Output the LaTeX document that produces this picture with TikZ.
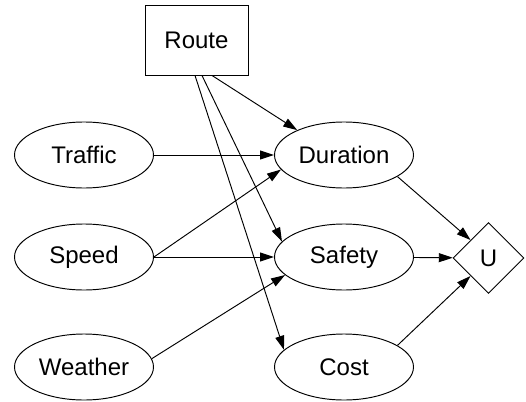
\documentclass[tikz,border=0pt]{standalone}
\usepackage{fontspec}
\setmainfont{Liberation Sans}
\usetikzlibrary{arrows.meta,shapes.geometric}

\begin{document}
\begin{tikzpicture}[x=1pt, y=-1pt, >={Triangle[length=14pt,width=9pt]}, line width=0.95pt,
  font=\fontsize{24}{28}\selectfont,
  var/.style={draw, ellipse, inner sep=0pt, minimum width=139pt, minimum height=66pt},
  dec/.style={draw, rectangle, inner sep=0pt, minimum width=103pt, minimum height=70pt},
  util/.style={draw, diamond, aspect=1, inner sep=0pt, minimum size=71pt}]
\useasboundingbox (0,0) rectangle (526,401);
% ---------- nodes ----------
\node[dec]  (route)    at (196.5,40) {Route};
\node[var]  (traffic)  at (84,155)   {Traffic};
\node[var]  (speed)    at (84,257)   {Speed};
\node[var]  (weather)  at (84,367)   {Weather};
\node[var]  (duration) at (344,155)  {Duration};
\node[var]  (safety)   at (344,257)  {Safety};
\node[var]  (cost)     at (344,367)  {Cost};
\node[util] (u)        at (488.5,258) {U};
% ---------- edges ----------
\draw[->] ([xshift=15.5pt]route.south) -- (duration.152);
\draw[->] ([xshift=5.5pt]route.south) -- (safety.166);
\draw[->] ([xshift=-1.5pt]route.south) -- (cost.164);
\draw[->] (traffic) -- (duration);
\draw[->] (speed.east) -- (duration.193);
\draw[->] (speed) -- (safety);
\draw[->] (weather.7) -- (safety.197);
\draw[->] (duration.-22) -- (u.north west);
\draw[->] (safety) -- (u);
\draw[->] (cost.22) -- (u.south west);
\end{tikzpicture}
\end{document}
